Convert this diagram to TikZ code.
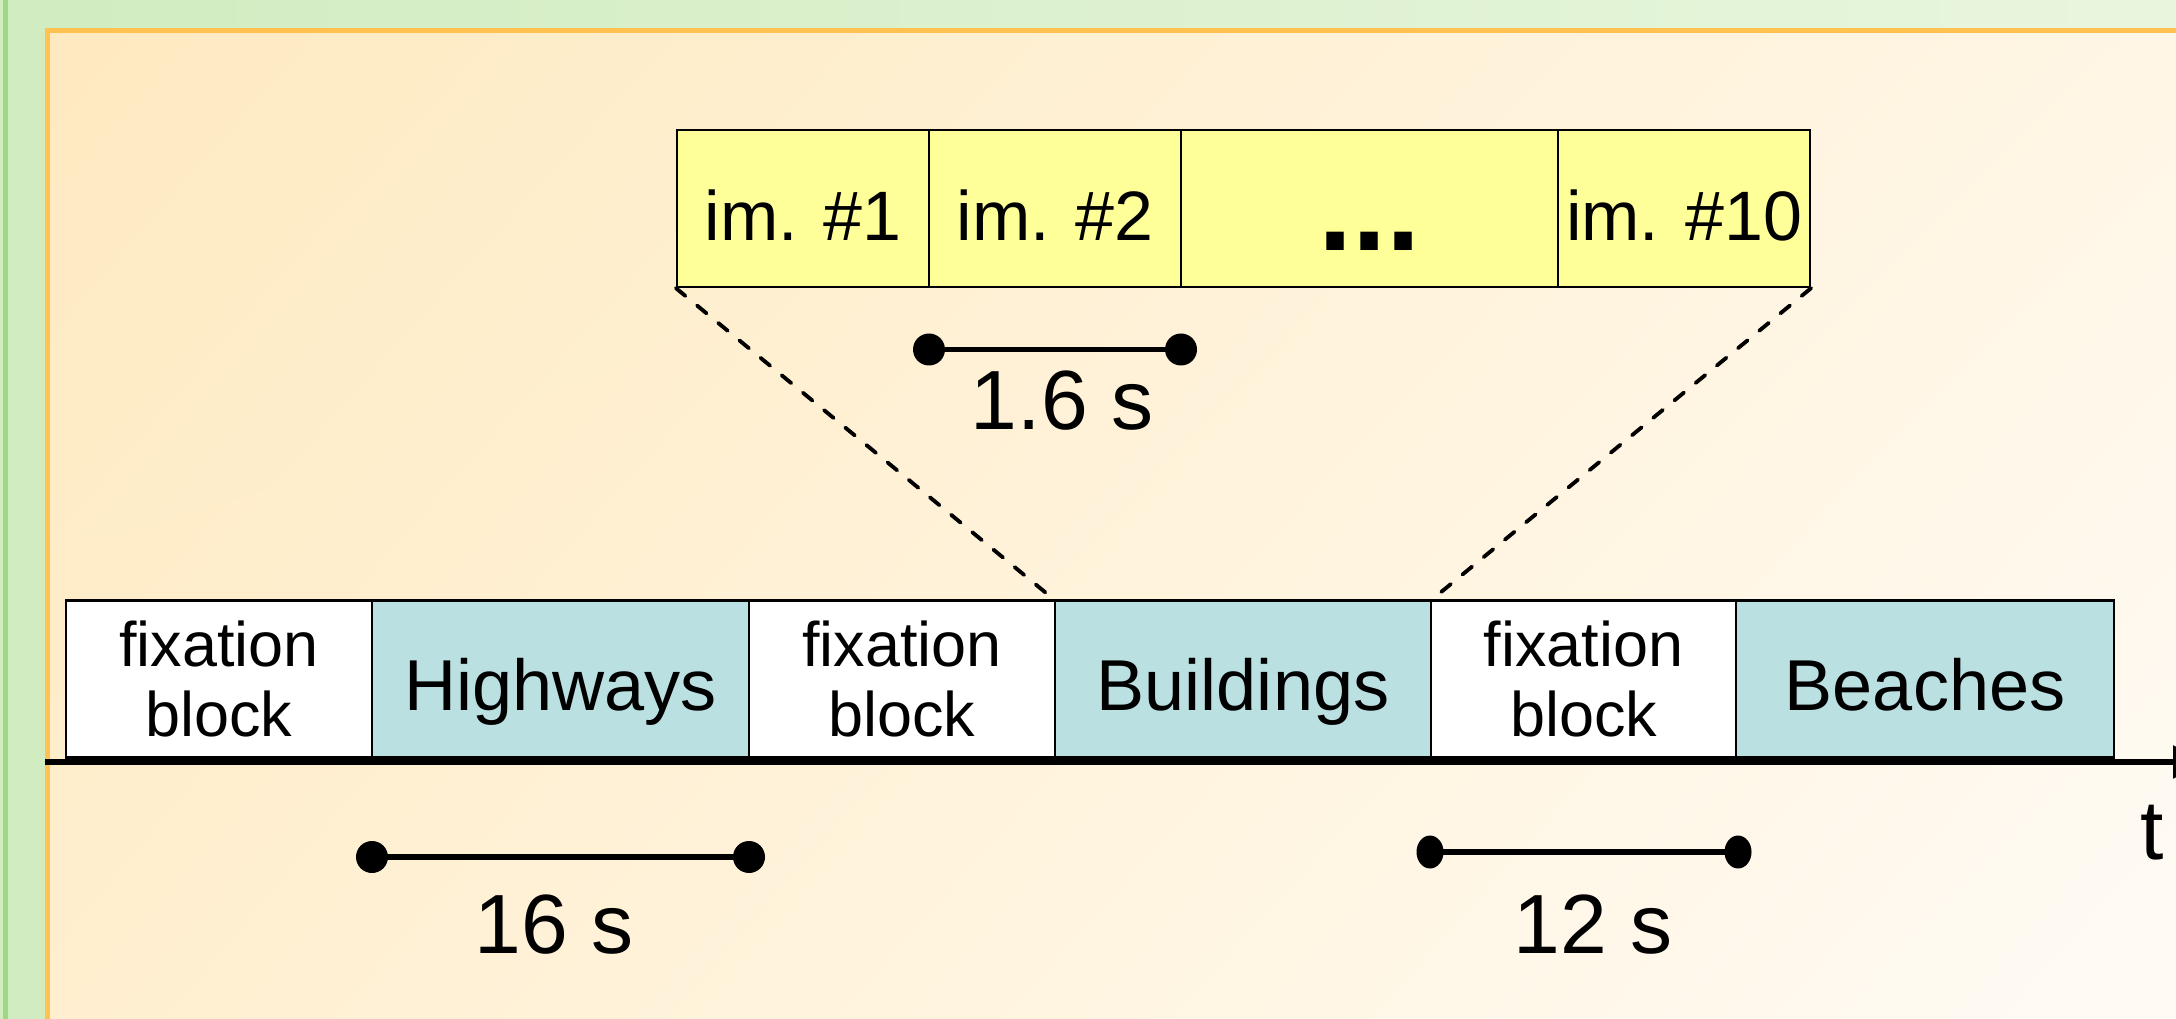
\documentclass[tikz,border=0pt]{standalone}
\usepackage{fontspec}
\setmainfont{Liberation Sans}
\usetikzlibrary{arrows.meta,shadings}
\definecolor{bgGreenA}{HTML}{D1ECC0}
\definecolor{bgGreenB}{HTML}{E8F6DE}
\definecolor{bgStripe}{HTML}{9FD883}
\definecolor{orUL}{HTML}{FEEAC0}
\definecolor{orUR}{HTML}{FFF6E6}
\definecolor{orLL}{HTML}{FFEFD0}
\definecolor{orLR}{HTML}{FFFCF6}
\definecolor{orBorder}{HTML}{FFC14F}
\definecolor{catTeal}{HTML}{BAE0E2}
\definecolor{imYellow}{HTML}{FFFF99}
\newcommand\dgFix{\fontsize{17.9pt}{19.8pt}\selectfont}
\newcommand\dgCat{\fontsize{20.5pt}{24pt}\selectfont}
\newcommand\dgIm{\fontsize{19.9pt}{23pt}\selectfont}
\newcommand\dgTime{\fontsize{23.9pt}{28pt}\selectfont}
\newcommand\dgDots{\fontsize{35pt}{40pt}\selectfont\bfseries}
\begin{document}
\begin{tikzpicture}[x=0.01cm,y=-0.01cm,
  box/.style={draw=black, line width=0.6pt, inner sep=0pt, minimum height=1.57cm},
  fixbox/.style={box, fill=white, minimum width=3.06cm, font=\dgFix, align=center},
  catbox/.style={box, fill=catTeal, minimum width=3.77cm, font=\dgCat, text height=0.63cm, text depth=0pt},
  imbox/.style={box, fill=imYellow, minimum width=2.52cm, font=\dgIm, text height=0.63cm, text depth=0pt},
  timelbl/.style={anchor=base, font=\dgTime, inner sep=0pt},
  bar/.style={line width=1.45pt},
  zoomline/.style={dash pattern=on 3.5pt off 4.3pt, line width=1.1pt, line cap=round}]
\useasboundingbox (0,0) rectangle (2176,1019);
\clip (0,0) rectangle (2176,1019);
% background
\shade[left color=bgGreenA, right color=bgGreenB] (0,0) rectangle (2176,1019);
\fill[bgStripe] (3,0) rectangle (8,1019);
\shade[upper left=orUL, upper right=orUR, lower left=orLL, lower right=orLR] (47.5,30.5) rectangle (2220,1060);
\draw[orBorder, line width=1.42pt] (47.5,1060) -- (47.5,30.5) -- (2220,30.5);
% image row
\node[imbox] (im1) at (803,208.5) {im. \#1};
\node[imbox] (im2) at (1055,208.5) {im. \#2};
\node[imbox, minimum width=3.77cm, font=\dgDots, text height=0.83cm] (imdots) at (1369.5,208.5) {...};
\node[imbox] (im10) at (1684,208.5) {im. \#10};
% block row
\node[fixbox] (fix1) at (219,679) {fixation\\block};
\node[catbox] (hw) at (560.5,679) {Highways};
\node[fixbox] (fix2) at (902,679) {fixation\\block};
\node[catbox, minimum width=3.76cm] (bd) at (1243,679) {Buildings};
\node[fixbox, minimum width=3.05cm] (fix3) at (1583.5,679) {fixation\\block};
\node[catbox, minimum width=3.78cm] (bc) at (1925,679) {Beaches};
% zoom lines
\draw[zoomline] (im1.south west) -- (bd.north west);
\draw[zoomline] (im10.south east) -- (bd.north east);
% time axis
\coordinate (axS) at (45,762);
\coordinate (axE) at (2205,762);
\draw[line width=1.7pt, -{Triangle[length=0.32cm,width=0.32cm]}] (axS) -- (axE);
\node[timelbl] (tlbl) at (2152,859) {t};
% 1.6 s
\coordinate (sA) at (929,349.5);
\coordinate (sB) at (1181,349.5);
\draw[bar] (sA) -- (sB);
\fill (sA) circle (16);
\fill (sB) circle (16);
\node[timelbl] (sLbl) at (1062,430) {1.6 s};
% 16 s
\coordinate (hA) at (372,857);
\coordinate (hB) at (749,857);
\draw[bar] (hA) -- (hB);
\fill (hA) circle (16);
\fill (hB) circle (16);
\node[timelbl] (hLbl) at (554,953) {16 s};
% 12 s
\coordinate (fA) at (1430,852);
\coordinate (fB) at (1738,852);
\draw[bar] (fA) -- (fB);
\fill (fA) ellipse [x radius=13.5, y radius=16.5];
\fill (fB) ellipse [x radius=13.5, y radius=16.5];
\node[timelbl] (fLbl) at (1593,953) {12 s};
\end{tikzpicture}
\end{document}
